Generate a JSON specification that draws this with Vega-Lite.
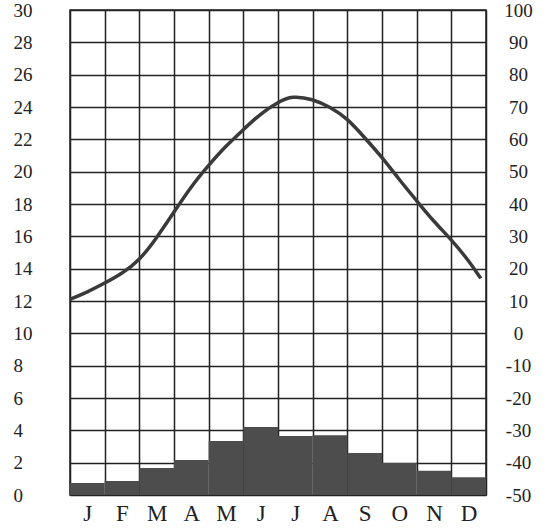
{
  "$schema": "https://vega.github.io/schema/vega-lite/v6.json",
  "autosize": "none",
  "width": 416,
  "height": 485,
  "padding": {"left": 70, "top": 10, "right": 62, "bottom": 34},
  "background": "#ffffff",
  "config": {
    "view": {"stroke": "#222222", "strokeWidth": 1.5},
    "axis": {"labelFont": "Liberation Serif", "labelColor": "#222222", "ticks": false, "domain": false, "title": null}
  },
  "datasets": {
    "precip": [
      {"month": "J", "s": 0, "e": 1, "p": 0.74},
      {"month": "F", "s": 1, "e": 2, "p": 0.87},
      {"month": "M", "s": 2, "e": 3, "p": 1.67},
      {"month": "A", "s": 3, "e": 4, "p": 2.16},
      {"month": "M", "s": 4, "e": 5, "p": 3.34},
      {"month": "J", "s": 5, "e": 6, "p": 4.2},
      {"month": "J", "s": 6, "e": 7, "p": 3.65},
      {"month": "A", "s": 7, "e": 8, "p": 3.7},
      {"month": "S", "s": 8, "e": 9, "p": 2.6},
      {"month": "O", "s": 9, "e": 10, "p": 1.98},
      {"month": "N", "s": 10, "e": 11, "p": 1.5},
      {"month": "D", "s": 11, "e": 12, "p": 1.1}
    ],
    "temp": [
      {"t": 0, "v": 12.1},
      {"t": 0.5, "v": 12.55},
      {"t": 1, "v": 13.1},
      {"t": 1.5, "v": 13.7},
      {"t": 2, "v": 14.5},
      {"t": 2.5, "v": 15.9},
      {"t": 3, "v": 17.5},
      {"t": 3.5, "v": 19.1},
      {"t": 4, "v": 20.4},
      {"t": 4.5, "v": 21.6},
      {"t": 5, "v": 22.6},
      {"t": 5.5, "v": 23.6},
      {"t": 6, "v": 24.3},
      {"t": 6.4, "v": 24.7},
      {"t": 7, "v": 24.5},
      {"t": 7.5, "v": 24.0},
      {"t": 8, "v": 23.3},
      {"t": 8.5, "v": 22.1},
      {"t": 9, "v": 20.9},
      {"t": 9.5, "v": 19.5},
      {"t": 10, "v": 18.2},
      {"t": 10.5, "v": 16.9},
      {"t": 11, "v": 15.8},
      {"t": 11.5, "v": 14.5},
      {"t": 11.85, "v": 13.4}
    ],
    "right": [{"r": -50}, {"r": 100}]
  },
  "layer": [
    {
      "data": {"name": "precip"},
      "mark": {"type": "rect", "fill": "#4d4d4d"},
      "encoding": {
        "x": {"field": "s", "type": "quantitative", "scale": {"domain": [0, 12], "nice": false, "zero": false},
          "axis": {"orient": "bottom", "values": [0,1,2,3,4,5,6,7,8,9,10,11,12], "labels": false, "grid": true, "gridColor": "#222222", "gridWidth": 1.5, "gridOpacity": 1}},
        "x2": {"field": "e"},
        "y": {"field": "p", "type": "quantitative", "scale": {"domain": [0, 30], "nice": false},
          "axis": {"orient": "left", "values": [0,2,4,6,8,10,12,14,16,18,20,22,24,26,28,30], "grid": true, "gridColor": "#222222", "gridWidth": 1.5, "gridOpacity": 1, "labelFontSize": 19, "labelAlign": "left", "labelPadding": 57}},
        "y2": {"datum": 0}
      }
    },
    {
      "data": {"name": "temp"},
      "mark": {"type": "line", "interpolate": "basis", "stroke": "#3a3a3a", "strokeWidth": 3.5},
      "encoding": {
        "x": {"field": "t", "type": "quantitative",
          "axis": {"orient": "bottom", "values": [0.5,1.5,2.5,3.5,4.5,5.5,6.5,7.5,8.5,9.5,10.5,11.5], "grid": false, "labelFontSize": 23, "labelPadding": 7,
            "labelExpr": "['J','F','M','A','M','J','J','A','S','O','N','D'][floor(datum.value)]"}},
        "y": {"field": "v", "type": "quantitative", "scale": {"domain": [0, 30], "nice": false}, "axis": null}
      }
    },
    {
      "data": {"name": "right"},
      "mark": {"type": "point", "opacity": 0},
      "encoding": {
        "y": {"field": "r", "type": "quantitative", "scale": {"domain": [-50, 100], "nice": false, "zero": false},
          "axis": {"orient": "right", "values": [-50,-40,-30,-20,-10,0,10,20,30,40,50,60,70,80,90,100], "grid": false, "labelFontSize": 19, "labelAlign": "center", "labelPadding": 32, "labelExpr": "'' + datum.value"}}
      }
    }
  ],
  "resolve": {"scale": {"y": "independent"}, "axis": {"x": "independent"}}
}
